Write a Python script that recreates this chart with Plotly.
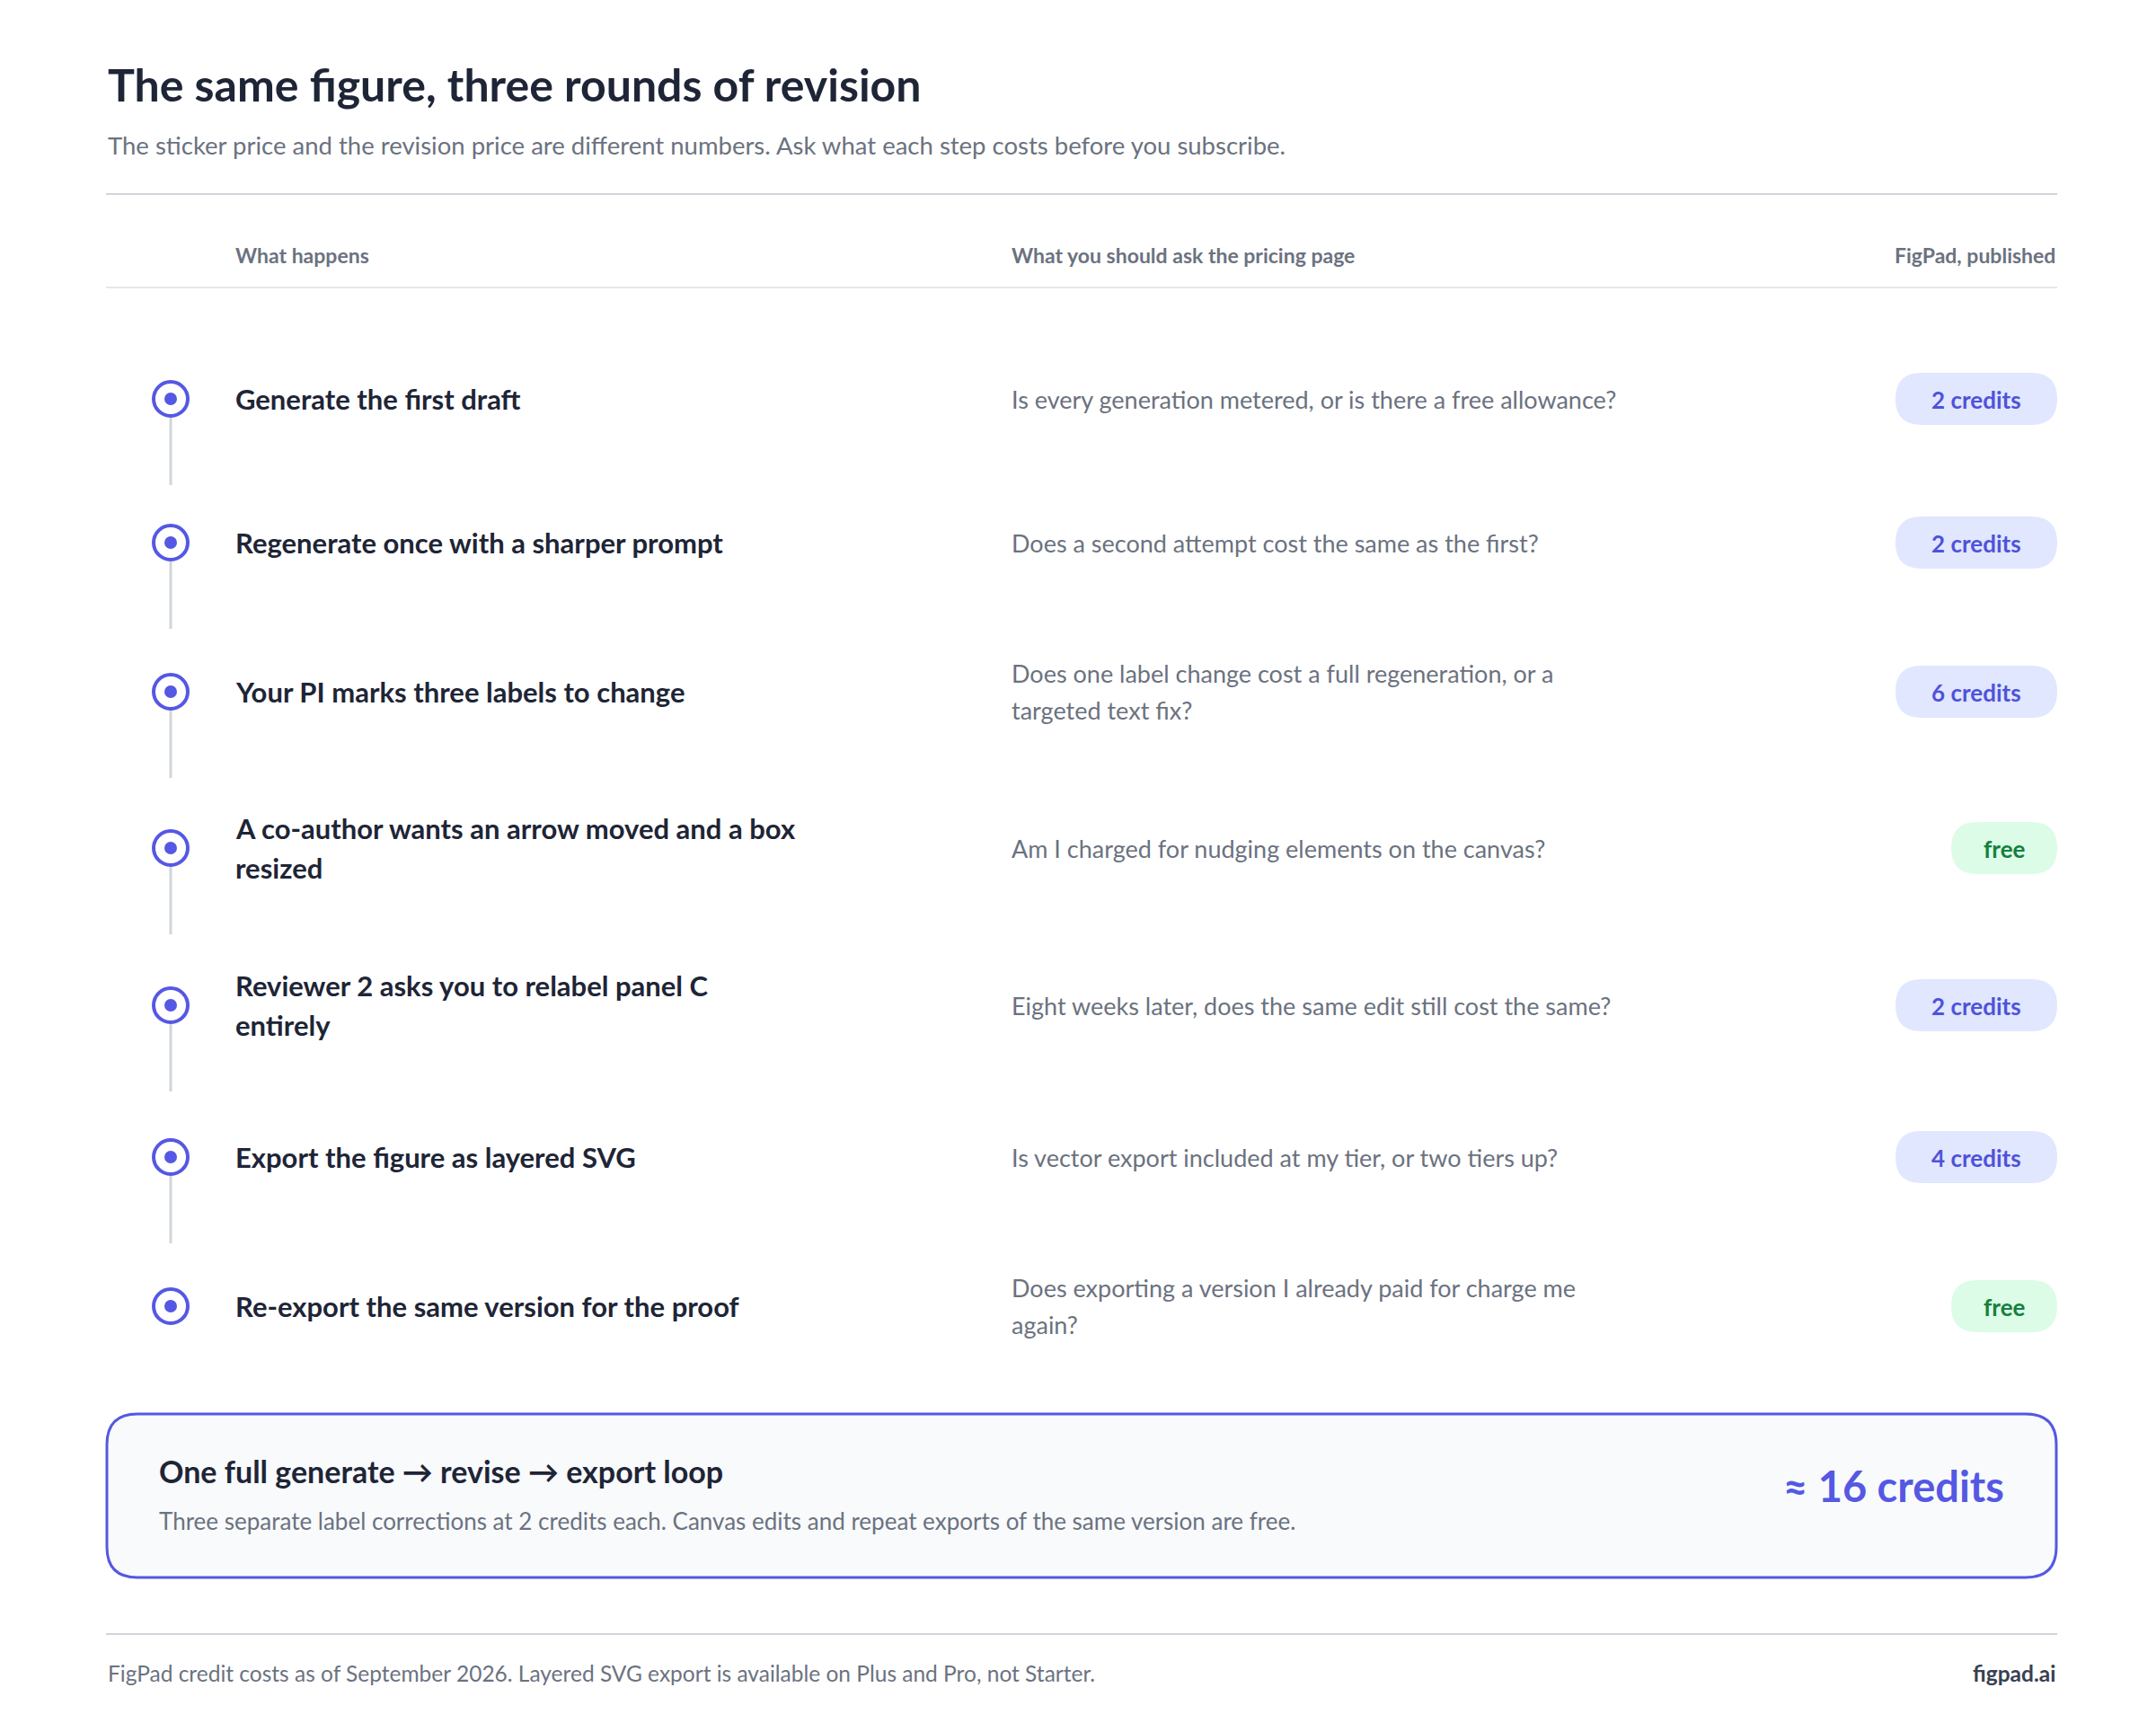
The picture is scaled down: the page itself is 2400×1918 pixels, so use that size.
import plotly.graph_objects as go

steps = ["Generate the first draft", "Regenerate once with a sharper prompt",
         "Your PI marks three labels to change",
         "A co-author wants an arrow moved and a box|resized",
         "Reviewer 2 asks you to relabel panel C|entirely",
         "Export the figure as layered SVG", "Re-export the same version for the proof"]
questions = ["Is every generation metered, or is there a free allowance?",
             "Does a second attempt cost the same as the first?",
             "Does one label change cost a full regeneration, or a|targeted text fix?",
             "Am I charged for nudging elements on the canvas?",
             "Eight weeks later, does the same edit still cost the same?",
             "Is vector export included at my tier, or two tiers up?",
             "Does exporting a version I already paid for charge me|again?"]
costs = ["2 credits", "2 credits", "6 credits", "free", "2 credits", "4 credits", "free"]
row_y = [445, 605, 771, 945, 1120, 1289, 1455]

ACC = "#5558e3"; DARK = "#1e2536"; GREY = "#6b7280"; FONT = "Lato"
DX, DY = 10, 9  # compensate page body margin

def rrect(x0, y0, x1, y1, r):
    return (f"M{x0+r},{y0} L{x1-r},{y0} Q{x1},{y0} {x1},{y0+r} L{x1},{y1-r} Q{x1},{y1} {x1-r},{y1} "
            f"L{x0+r},{y1} Q{x0},{y1} {x0},{y1-r} L{x0},{y0+r} Q{x0},{y0} {x0+r},{y0} Z")

fig = go.Figure()
shapes, ann = [], []
def text(x, y, t, size, color, bold=False, anchor="left"):
    ann.append(dict(x=x, y=y, text=f"<b>{t}</b>" if bold else t, showarrow=False, xanchor=anchor,
                    yanchor="middle", align=anchor, font=dict(family=FONT, size=size, color=color)))
def multiline(x, y, t, size, color, bold=False, gap=43):
    parts = t.split("|")
    n = len(parts)
    for k, p in enumerate(parts):
        text(x, y + (k - (n - 1) / 2) * gap, p, size, color, bold)

text(120, 95, "The same figure, three rounds of revision", 50, DARK, True)
text(120, 162, "The sticker price and the revision price are different numbers. Ask what each step costs before you subscribe.", 27.5, GREY)
for yy in (217, 1820):
    shapes.append(dict(type="line", x0=120, x1=2292, y0=yy, y1=yy, line=dict(color="#d1d5db", width=2)))
shapes.append(dict(type="line", x0=120, x1=2292, y0=321, y1=321, line=dict(color="#e5e7eb", width=2)))
text(262, 285, "What happens", 23, GREY, True)
text(1126, 285, "What you should ask the pricing page", 23, GREY, True)
text(2292, 285, "FigPad, published", 23, GREY, True, "right")

for i, (s, q, c, y) in enumerate(zip(steps, questions, costs, row_y)):
    if i < len(steps) - 1:
        shapes.append(dict(type="line", x0=192, x1=192, y0=y + 20, y1=y + 96, line=dict(color="#d1d5db", width=3), layer="below"))
    multiline(262, y, s, 31, DARK, True, 44)
    multiline(1126, y, q, 27, GREY, False, 41)
    free = c == "free"
    x0 = 2174 if free else 2112
    shapes.append(dict(type="path", path=rrect(x0, y - 29, 2292, y + 29, 29),
                       fillcolor="#dcfce7" if free else "#e0e7ff", line=dict(width=0)))
    text((x0 + 2292) / 2, y + 1, c, 26, "#15803d" if free else "#4f52d9", True, "center")

fig.add_trace(go.Scatter(x=[192] * 7, y=row_y, mode="markers", hoverinfo="skip",
                         marker=dict(size=38, color="white", line=dict(color=ACC, width=4))))
fig.add_trace(go.Scatter(x=[192] * 7, y=row_y, mode="markers", hoverinfo="skip",
                         marker=dict(size=14, color=ACC)))

shapes.append(dict(type="path", path=rrect(121, 1575, 2291, 1757, 34), fillcolor="#f8fafc",
                   line=dict(color=ACC, width=3), layer="below"))
text(177, 1638, "One full generate → revise → export loop", 34, DARK, True)
text(177, 1694, "Three separate label corrections at 2 credits each. Canvas edits and repeat exports of the same version are free.", 26, GREY)
text(2235, 1655, "≈ 16 credits", 47, ACC, True, "right")
text(120, 1863, "FigPad credit costs as of September 2026. Layered SVG export is available on Plus and Pro, not Starter.", 24.5, GREY)
text(2292, 1863, "figpad.ai", 24.5, "#374151", True, "right")

fig.update_layout(width=2400, height=1918, margin=dict(l=0, r=0, t=0, b=0), showlegend=False,
                  plot_bgcolor="white", paper_bgcolor="white", shapes=shapes, annotations=ann,
                  xaxis=dict(range=[DX, 2400 + DX], visible=False, fixedrange=True),
                  yaxis=dict(range=[1918 + DY, DY], visible=False, fixedrange=True))
fig.write_html("out.html", config={"displayModeBar": False})
